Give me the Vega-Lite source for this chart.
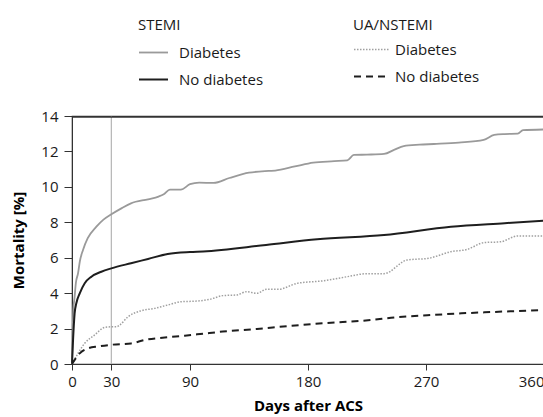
{
  "$schema": "https://vega.github.io/schema/vega-lite/v6.json",
  "width": 472,
  "height": 248,
  "autosize": {"type": "none"},
  "padding": {"left": 72, "top": 116, "right": -1, "bottom": 53},
  "background": "white",
  "config": {"view": {"stroke": "#333333", "strokeWidth": 1.2}, "font": "Open Sans",
    "axisX": {"grid": false,
      "domainColor": "#333333", "tickColor": "#333333", "tickSize": 6, "labelFontSize": 15,
      "labelColor": "#1a1a1a", "labelPadding": 4, "labelFlush": false, "labelOverlap": false,
      "labelAlign": {"expr": "datum.value == 360 ? 'right' : 'center'"},
      "titleFontSize": 15, "titleFontWeight": "bold", "titleColor": "#000000", "titlePadding": 9},
    "axisY": {"grid": false,
      "domainColor": "#333333", "tickColor": "#333333", "tickSize": 8, "labelFontSize": 15,
      "labelColor": "#1a1a1a", "labelPadding": 6, "labelOverlap": false, "labelBound": false,
      "titleFontSize": 15, "titleFontWeight": "bold", "titleColor": "#000000", "titlePadding": 14}},
  "datasets": {
    "curves": [
      {"g": "STEMI", "s": "Diabetes", "d": 0, "m": 0},
      {"g": "STEMI", "s": "Diabetes", "d": 1, "m": 3.0},
      {"g": "STEMI", "s": "Diabetes", "d": 2, "m": 3.8},
      {"g": "STEMI", "s": "Diabetes", "d": 3, "m": 4.6},
      {"g": "STEMI", "s": "Diabetes", "d": 4.6, "m": 5.12},
      {"g": "STEMI", "s": "Diabetes", "d": 6, "m": 5.8},
      {"g": "STEMI", "s": "Diabetes", "d": 8.4, "m": 6.44},
      {"g": "STEMI", "s": "Diabetes", "d": 12, "m": 7.1},
      {"g": "STEMI", "s": "Diabetes", "d": 18.6, "m": 7.75},
      {"g": "STEMI", "s": "Diabetes", "d": 24, "m": 8.15},
      {"g": "STEMI", "s": "Diabetes", "d": 30, "m": 8.45},
      {"g": "STEMI", "s": "Diabetes", "d": 38, "m": 8.8},
      {"g": "STEMI", "s": "Diabetes", "d": 45, "m": 9.07},
      {"g": "STEMI", "s": "Diabetes", "d": 58, "m": 9.3},
      {"g": "STEMI", "s": "Diabetes", "d": 66, "m": 9.45},
      {"g": "STEMI", "s": "Diabetes", "d": 70, "m": 9.58},
      {"g": "STEMI", "s": "Diabetes", "d": 74.7, "m": 9.84},
      {"g": "STEMI", "s": "Diabetes", "d": 83, "m": 9.84},
      {"g": "STEMI", "s": "Diabetes", "d": 90, "m": 10.15},
      {"g": "STEMI", "s": "Diabetes", "d": 97, "m": 10.24},
      {"g": "STEMI", "s": "Diabetes", "d": 108, "m": 10.22},
      {"g": "STEMI", "s": "Diabetes", "d": 120, "m": 10.5},
      {"g": "STEMI", "s": "Diabetes", "d": 135, "m": 10.8},
      {"g": "STEMI", "s": "Diabetes", "d": 150, "m": 10.9},
      {"g": "STEMI", "s": "Diabetes", "d": 155, "m": 10.92},
      {"g": "STEMI", "s": "Diabetes", "d": 170, "m": 11.15},
      {"g": "STEMI", "s": "Diabetes", "d": 184, "m": 11.37},
      {"g": "STEMI", "s": "Diabetes", "d": 200, "m": 11.45},
      {"g": "STEMI", "s": "Diabetes", "d": 210, "m": 11.5},
      {"g": "STEMI", "s": "Diabetes", "d": 215, "m": 11.8},
      {"g": "STEMI", "s": "Diabetes", "d": 225, "m": 11.82},
      {"g": "STEMI", "s": "Diabetes", "d": 238, "m": 11.86},
      {"g": "STEMI", "s": "Diabetes", "d": 246, "m": 12.1},
      {"g": "STEMI", "s": "Diabetes", "d": 253, "m": 12.3},
      {"g": "STEMI", "s": "Diabetes", "d": 265, "m": 12.38},
      {"g": "STEMI", "s": "Diabetes", "d": 276, "m": 12.42},
      {"g": "STEMI", "s": "Diabetes", "d": 295, "m": 12.5},
      {"g": "STEMI", "s": "Diabetes", "d": 314, "m": 12.65},
      {"g": "STEMI", "s": "Diabetes", "d": 322, "m": 12.93},
      {"g": "STEMI", "s": "Diabetes", "d": 330, "m": 12.98},
      {"g": "STEMI", "s": "Diabetes", "d": 340, "m": 13.0},
      {"g": "STEMI", "s": "Diabetes", "d": 344, "m": 13.2},
      {"g": "STEMI", "s": "Diabetes", "d": 360, "m": 13.24},
      {"g": "STEMI", "s": "No diabetes", "d": 0, "m": 0},
      {"g": "STEMI", "s": "No diabetes", "d": 0.8, "m": 1.36},
      {"g": "STEMI", "s": "No diabetes", "d": 2, "m": 2.86},
      {"g": "STEMI", "s": "No diabetes", "d": 3.3, "m": 3.43},
      {"g": "STEMI", "s": "No diabetes", "d": 5.9, "m": 3.99},
      {"g": "STEMI", "s": "No diabetes", "d": 9.7, "m": 4.56},
      {"g": "STEMI", "s": "No diabetes", "d": 14.8, "m": 4.93},
      {"g": "STEMI", "s": "No diabetes", "d": 22.4, "m": 5.21},
      {"g": "STEMI", "s": "No diabetes", "d": 30, "m": 5.4},
      {"g": "STEMI", "s": "No diabetes", "d": 45, "m": 5.69},
      {"g": "STEMI", "s": "No diabetes", "d": 58, "m": 5.93},
      {"g": "STEMI", "s": "No diabetes", "d": 73, "m": 6.21},
      {"g": "STEMI", "s": "No diabetes", "d": 90, "m": 6.32},
      {"g": "STEMI", "s": "No diabetes", "d": 100, "m": 6.35},
      {"g": "STEMI", "s": "No diabetes", "d": 148, "m": 6.72},
      {"g": "STEMI", "s": "No diabetes", "d": 187, "m": 7.04},
      {"g": "STEMI", "s": "No diabetes", "d": 238, "m": 7.28},
      {"g": "STEMI", "s": "No diabetes", "d": 289, "m": 7.75},
      {"g": "STEMI", "s": "No diabetes", "d": 330, "m": 7.95},
      {"g": "STEMI", "s": "No diabetes", "d": 360, "m": 8.09},
      {"g": "UA/NSTEMI", "s": "Diabetes", "d": 0, "m": 0},
      {"g": "UA/NSTEMI", "s": "Diabetes", "d": 4.6, "m": 0.6},
      {"g": "UA/NSTEMI", "s": "Diabetes", "d": 9.7, "m": 1.17},
      {"g": "UA/NSTEMI", "s": "Diabetes", "d": 17.3, "m": 1.64},
      {"g": "UA/NSTEMI", "s": "Diabetes", "d": 25, "m": 2.07},
      {"g": "UA/NSTEMI", "s": "Diabetes", "d": 30, "m": 2.1},
      {"g": "UA/NSTEMI", "s": "Diabetes", "d": 34, "m": 2.1},
      {"g": "UA/NSTEMI", "s": "Diabetes", "d": 36.4, "m": 2.2},
      {"g": "UA/NSTEMI", "s": "Diabetes", "d": 42.8, "m": 2.67},
      {"g": "UA/NSTEMI", "s": "Diabetes", "d": 53, "m": 3.01},
      {"g": "UA/NSTEMI", "s": "Diabetes", "d": 63, "m": 3.14},
      {"g": "UA/NSTEMI", "s": "Diabetes", "d": 73, "m": 3.33},
      {"g": "UA/NSTEMI", "s": "Diabetes", "d": 83.6, "m": 3.52},
      {"g": "UA/NSTEMI", "s": "Diabetes", "d": 95, "m": 3.55},
      {"g": "UA/NSTEMI", "s": "Diabetes", "d": 105, "m": 3.65},
      {"g": "UA/NSTEMI", "s": "Diabetes", "d": 115, "m": 3.86},
      {"g": "UA/NSTEMI", "s": "Diabetes", "d": 126, "m": 3.9},
      {"g": "UA/NSTEMI", "s": "Diabetes", "d": 133, "m": 4.08},
      {"g": "UA/NSTEMI", "s": "Diabetes", "d": 141, "m": 3.99},
      {"g": "UA/NSTEMI", "s": "Diabetes", "d": 148.6, "m": 4.22},
      {"g": "UA/NSTEMI", "s": "Diabetes", "d": 157.5, "m": 4.22},
      {"g": "UA/NSTEMI", "s": "Diabetes", "d": 171.6, "m": 4.55},
      {"g": "UA/NSTEMI", "s": "Diabetes", "d": 192, "m": 4.7},
      {"g": "UA/NSTEMI", "s": "Diabetes", "d": 210, "m": 4.93},
      {"g": "UA/NSTEMI", "s": "Diabetes", "d": 225, "m": 5.1},
      {"g": "UA/NSTEMI", "s": "Diabetes", "d": 238, "m": 5.1},
      {"g": "UA/NSTEMI", "s": "Diabetes", "d": 255.6, "m": 5.87},
      {"g": "UA/NSTEMI", "s": "Diabetes", "d": 272, "m": 5.97},
      {"g": "UA/NSTEMI", "s": "Diabetes", "d": 289, "m": 6.34},
      {"g": "UA/NSTEMI", "s": "Diabetes", "d": 301.5, "m": 6.47},
      {"g": "UA/NSTEMI", "s": "Diabetes", "d": 314, "m": 6.85},
      {"g": "UA/NSTEMI", "s": "Diabetes", "d": 327, "m": 6.9},
      {"g": "UA/NSTEMI", "s": "Diabetes", "d": 340, "m": 7.23},
      {"g": "UA/NSTEMI", "s": "Diabetes", "d": 360, "m": 7.23},
      {"g": "UA/NSTEMI", "s": "No diabetes", "d": 0, "m": 0},
      {"g": "UA/NSTEMI", "s": "No diabetes", "d": 5.9, "m": 0.6},
      {"g": "UA/NSTEMI", "s": "No diabetes", "d": 12.2, "m": 0.88},
      {"g": "UA/NSTEMI", "s": "No diabetes", "d": 19.9, "m": 0.99},
      {"g": "UA/NSTEMI", "s": "No diabetes", "d": 30.6, "m": 1.09},
      {"g": "UA/NSTEMI", "s": "No diabetes", "d": 45, "m": 1.16},
      {"g": "UA/NSTEMI", "s": "No diabetes", "d": 55.5, "m": 1.36},
      {"g": "UA/NSTEMI", "s": "No diabetes", "d": 70.8, "m": 1.5},
      {"g": "UA/NSTEMI", "s": "No diabetes", "d": 86, "m": 1.6},
      {"g": "UA/NSTEMI", "s": "No diabetes", "d": 101, "m": 1.72},
      {"g": "UA/NSTEMI", "s": "No diabetes", "d": 115, "m": 1.83},
      {"g": "UA/NSTEMI", "s": "No diabetes", "d": 141, "m": 1.98},
      {"g": "UA/NSTEMI", "s": "No diabetes", "d": 166, "m": 2.15},
      {"g": "UA/NSTEMI", "s": "No diabetes", "d": 192, "m": 2.3},
      {"g": "UA/NSTEMI", "s": "No diabetes", "d": 228, "m": 2.48},
      {"g": "UA/NSTEMI", "s": "No diabetes", "d": 246, "m": 2.63},
      {"g": "UA/NSTEMI", "s": "No diabetes", "d": 271, "m": 2.75},
      {"g": "UA/NSTEMI", "s": "No diabetes", "d": 297, "m": 2.86},
      {"g": "UA/NSTEMI", "s": "No diabetes", "d": 322, "m": 2.94},
      {"g": "UA/NSTEMI", "s": "No diabetes", "d": 358, "m": 3.05},
      {"g": "UA/NSTEMI", "s": "No diabetes", "d": 360, "m": 3.06}
    ],
    "refs": [{"day": 30, "lo": 0, "hi": 14, "x0": 0, "x1": 360}]
  },
  "layer": [
    {
      "data": {"name": "refs"},
      "mark": {"type": "rule", "color": "#b4b4b4", "strokeWidth": 1.2},
      "encoding": {
        "x": {"field": "day", "type": "quantitative", "scale": {"domain": [0, 360], "nice": false},
          "axis": {"title": "Days after ACS", "values": [0, 30, 90, 180, 270, 360]}},
        "y": {"field": "lo", "type": "quantitative", "scale": {"domain": [0, 14], "nice": false},
          "axis": {"title": "Mortality [%]", "values": [0, 2, 4, 6, 8, 10, 12, 14]}},
        "y2": {"field": "hi"}
      }
    },
    {
      "data": {"name": "curves"},
      "transform": [{"filter": "datum.g == 'STEMI'"}],
      "mark": {"type": "line", "interpolate": "monotone"},
      "encoding": {
        "x": {"field": "d", "type": "quantitative", "axis": {"title": "Days after ACS", "values": [0, 30, 90, 180, 270, 360]}},
        "y": {"field": "m", "type": "quantitative", "axis": {"title": "Mortality [%]", "values": [0, 2, 4, 6, 8, 10, 12, 14]}},
        "color": {"field": "s", "type": "nominal",
          "scale": {"domain": ["Diabetes", "No diabetes"], "range": ["#9a9a9a", "#1e1e1e"]},
          "legend": {"title": "STEMI", "orient": "none", "legendX": 66, "legendY": -98,
            "symbolSize": 841, "labelOffset": 10, "titlePadding": 4, "rowPadding": 3,
            "labelFontSize": 15, "labelColor": "#1a1a1a", "titleFontSize": 15, "titleFontWeight": "normal",
            "titleColor": "#1a1a1a", "padding": 0}},
        "strokeWidth": {"field": "s", "type": "nominal",
          "scale": {"domain": ["Diabetes", "No diabetes"], "range": [1.8, 2]},
          "legend": {"title": "STEMI", "orient": "none", "legendX": 66, "legendY": -98,
            "symbolSize": 841, "labelOffset": 10, "titlePadding": 4, "rowPadding": 3,
            "labelFontSize": 15, "labelColor": "#1a1a1a", "titleFontSize": 15, "titleFontWeight": "normal",
            "titleColor": "#1a1a1a", "padding": 0}}
      }
    },
    {
      "data": {"name": "curves"},
      "transform": [{"filter": "datum.g == 'UA/NSTEMI'"}],
      "mark": {"type": "line", "interpolate": "monotone"},
      "encoding": {
        "x": {"field": "d", "type": "quantitative", "axis": {"title": "Days after ACS", "values": [0, 30, 90, 180, 270, 360]}},
        "y": {"field": "m", "type": "quantitative", "axis": {"title": "Mortality [%]", "values": [0, 2, 4, 6, 8, 10, 12, 14]}},
        "color": {"field": "s", "type": "nominal",
          "scale": {"domain": ["Diabetes", "No diabetes"], "range": ["#a0a0a0", "#1e1e1e"]},
          "legend": {"title": "UA/NSTEMI", "orient": "none", "legendX": 281, "legendY": -98,
            "symbolSize": 1225, "labelOffset": 5, "titlePadding": -2, "rowPadding": 0,
            "labelFontSize": 15, "labelColor": "#1a1a1a", "titleFontSize": 15, "titleFontWeight": "normal",
            "titleColor": "#1a1a1a", "padding": 0}},
        "strokeDash": {"field": "s", "type": "nominal",
          "scale": {"domain": ["Diabetes", "No diabetes"], "range": [[1.5, 1.5], [7, 5]]},
          "legend": {"title": "UA/NSTEMI", "orient": "none", "legendX": 281, "legendY": -98,
            "symbolSize": 1225, "labelOffset": 5, "titlePadding": -2, "rowPadding": 0,
            "labelFontSize": 15, "labelColor": "#1a1a1a", "titleFontSize": 15, "titleFontWeight": "normal",
            "titleColor": "#1a1a1a", "padding": 0}},
        "strokeWidth": {"field": "s", "type": "nominal",
          "scale": {"domain": ["Diabetes", "No diabetes"], "range": [1.5, 2]},
          "legend": {"title": "UA/NSTEMI", "orient": "none", "legendX": 281, "legendY": -98,
            "symbolSize": 1225, "labelOffset": 5, "titlePadding": -2, "rowPadding": 0,
            "labelFontSize": 15, "labelColor": "#1a1a1a", "titleFontSize": 15, "titleFontWeight": "normal",
            "titleColor": "#1a1a1a", "padding": 0}}
      }
    },
    {
      "data": {"name": "refs"},
      "mark": {"type": "rule", "color": "#333333", "strokeWidth": 1.5, "clip": false, "yOffset": 1},
      "encoding": {
        "x": {"field": "x0", "type": "quantitative", "axis": {"title": "Days after ACS", "values": [0, 30, 90, 180, 270, 360]}},
        "x2": {"field": "x1"},
        "y": {"field": "hi", "type": "quantitative", "axis": {"title": "Mortality [%]", "values": [0, 2, 4, 6, 8, 10, 12, 14]}}
      }
    }
  ],
  "resolve": {
    "scale": {"color": "independent", "strokeWidth": "independent", "strokeDash": "independent"}
  }
}
